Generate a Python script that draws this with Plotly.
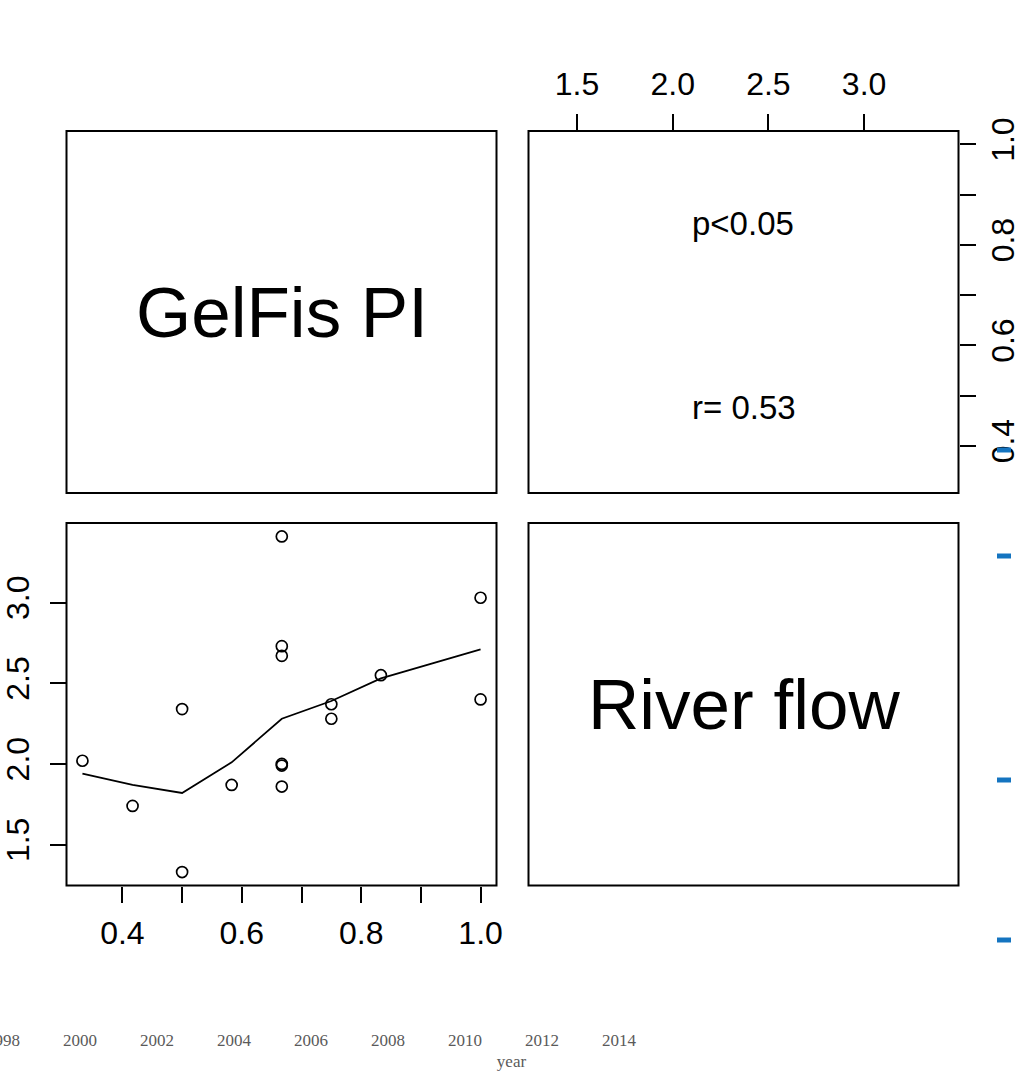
import plotly.graph_objects as go

W, H = 1023, 1073

# ---------------- data ----------------
var_names = ["GelFis PI", "River flow"]
gelfis_pi = [0.333, 0.417, 0.5, 0.5, 0.583, 0.667, 0.667, 0.667, 0.667, 0.667,
             0.667, 0.75, 0.75, 0.833, 1.0, 1.0]
river_flow = [2.02, 1.74, 2.34, 1.33, 1.87, 3.41, 2.73, 2.67, 2.00, 1.99,
              1.86, 2.37, 2.28, 2.55, 3.03, 2.40]
smooth_x = [0.333, 0.417, 0.5, 0.583, 0.667, 0.75, 0.833, 1.0]
smooth_y = [1.94, 1.87, 1.82, 2.01, 2.28, 2.39, 2.53, 2.71]
corr_text = ["p<0.05", "r= 0.53"]

gelfis_ticks = [0.4, 0.5, 0.6, 0.7, 0.8, 0.9, 1.0]
gelfis_tick_labels = ["0.4", "", "0.6", "", "0.8", "", "1.0"]
river_ticks = [1.5, 2.0, 2.5, 3.0]
river_tick_labels = ["1.5", "2.0", "2.5", "3.0"]
year_ticks = [1998, 2000, 2002, 2004, 2006, 2008, 2010, 2012, 2014]
year_tick_labels = ["1998", "2000", "2002", "2004", "2006", "2008", "2010", "2012", "2014"]
year_title = "year"


def px_x(p):
    return p / W


def px_y(p):
    return 1 - p / H


def pad_range(vals, f=0.04):
    lo, hi = min(vals), max(vals)
    d = (hi - lo) * f
    return [lo - d, hi + d]


# panel frames in pixels (left, top, right, bottom)
L_X = (66.5, 496.5)
R_X = (528.5, 958.5)
T_Y = (131, 493)
B_Y = (523, 885.5)

SANS = "Liberation Sans, Arial, sans-serif"
SERIF = "Liberation Serif, Times New Roman, serif"
tick_font = dict(family=SANS, size=32, color="black")

fig = go.Figure()

# scatter (bottom-left panel)
fig.add_trace(go.Scatter(
    x=gelfis_pi, y=river_flow, mode="markers",
    marker=dict(symbol="circle-open", size=11, color="black",
                line=dict(width=1.7, color="black")),
    xaxis="x", yaxis="y", showlegend=False, hoverinfo="skip"))
fig.add_trace(go.Scatter(
    x=smooth_x, y=smooth_y, mode="lines",
    line=dict(color="black", width=1.8),
    xaxis="x", yaxis="y", showlegend=False, hoverinfo="skip"))

# empty traces to create the upper-right axes and the year axis
fig.add_trace(go.Scatter(x=[], y=[], xaxis="x2", yaxis="y2", showlegend=False))
fig.add_trace(go.Scatter(x=[], y=[], xaxis="x3", yaxis="y3", showlegend=False))

axis_common = dict(showgrid=False, zeroline=False, showline=False,
                   ticks="outside", ticklen=16, tickwidth=1.5, tickcolor="black",
                   tickfont=tick_font, fixedrange=True, automargin=False,
                   ticklabeloverflow="allow")

fig.update_layout(
    width=W, height=H,
    margin=dict(l=0, r=0, t=0, b=0, pad=0),
    paper_bgcolor="white", plot_bgcolor="rgba(0,0,0,0)",
    showlegend=False,
    xaxis=dict(domain=[px_x(L_X[0]), px_x(L_X[1])], anchor="y",
               range=pad_range(gelfis_pi), tickmode="array",
               tickvals=gelfis_ticks, ticktext=gelfis_tick_labels,
               ticklabelstandoff=3, **axis_common),
    yaxis=dict(domain=[px_y(B_Y[1]), px_y(B_Y[0])], anchor="x",
               range=pad_range(river_flow), tickmode="array",
               tickvals=river_ticks, ticktext=river_tick_labels,
               tickangle=-90, ticklabelstandoff=8, **axis_common),
    xaxis2=dict(domain=[px_x(R_X[0]), px_x(R_X[1])], anchor="y2", side="top",
                range=pad_range(river_flow), tickmode="array",
                tickvals=river_ticks, ticktext=river_tick_labels,
                ticklabelstandoff=6, **axis_common),
    yaxis2=dict(domain=[px_y(T_Y[1]), px_y(T_Y[0])], anchor="x2", side="right",
                range=pad_range(gelfis_pi), tickmode="array",
                tickvals=gelfis_ticks, ticktext=gelfis_tick_labels,
                tickangle=-90, ticklabelstandoff=0, **axis_common),
    xaxis3=dict(domain=[0, 1], anchor="y3", range=[1997.92, 2024.5],
                tickmode="array", tickvals=year_ticks, ticktext=year_tick_labels,
                showgrid=False, zeroline=False, showline=False, ticks="",
                tickfont=dict(family=SERIF, size=17, color="#5a5a5a"),
                title=dict(text=year_title, standoff=6,
                           font=dict(family=SERIF, size=17, color="#5a5a5a")),
                fixedrange=True, automargin=False, ticklabeloverflow="allow"),
    yaxis3=dict(domain=[px_y(1028), px_y(1026)], anchor="x3", visible=False,
                fixedrange=True, automargin=False),
)

shapes = []
for (x0, x1) in (L_X, R_X):
    for (y0, y1) in (T_Y, B_Y):
        shapes.append(dict(type="rect", xref="paper", yref="paper",
                           x0=px_x(x0), x1=px_x(x1), y0=px_y(y1), y1=px_y(y0),
                           line=dict(color="black", width=2), layer="above"))
# blue dash artifacts at the right edge
for yc in (450, 556, 780, 940):
    shapes.append(dict(type="rect", xref="paper", yref="paper",
                       x0=px_x(997), x1=px_x(1011), y0=px_y(yc + 2.5), y1=px_y(yc - 2.5),
                       line=dict(width=0), fillcolor="#1474c0", layer="above"))
fig.update_layout(shapes=shapes)

annotations = [
    dict(text=var_names[0], x=px_x(sum(L_X) / 2), y=px_y(sum(T_Y) / 2), size=71),
    dict(text=var_names[1], x=px_x(sum(R_X) / 2), y=px_y(sum(B_Y) / 2), size=71),
    dict(text=corr_text[0], x=px_x(743), y=px_y(223), size=33),
    dict(text=corr_text[1], x=px_x(744), y=px_y(407), size=33),
]
for a in annotations:
    s = a.pop("size")
    a.update(xref="paper", yref="paper", showarrow=False,
             font=dict(family=SANS, size=s, color="black"),
             xanchor="center", yanchor="middle")
fig.update_layout(annotations=annotations)

fig.write_html("out.html")
